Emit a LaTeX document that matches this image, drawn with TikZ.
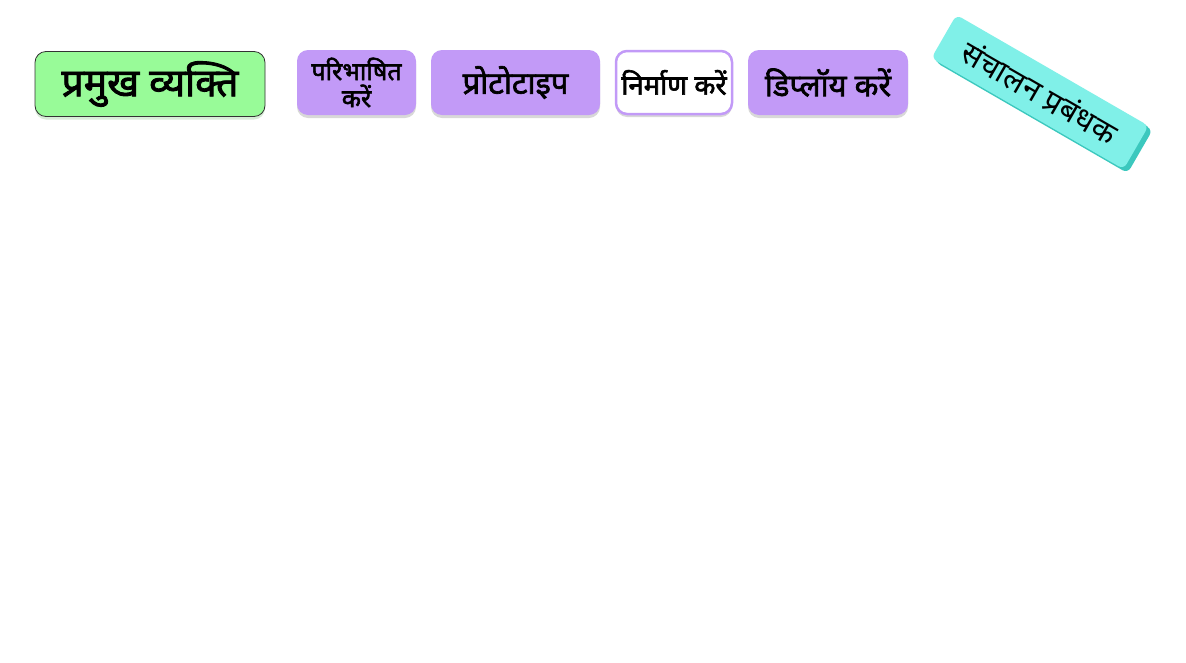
\documentclass[tikz,border=0pt]{standalone}
\usepackage{fontspec}
\newfontfamily\deva[Script=Devanagari]{Noto Sans}
\newfontfamily\devab[Script=Devanagari, FakeBold=2.2]{Noto Sans}
\usetikzlibrary{shadows}
\definecolor{mygreen}{HTML}{98FB98}
\definecolor{mypurple}{HTML}{C29AF7}
\definecolor{myteal}{HTML}{80F0E8}
\definecolor{mytealdark}{HTML}{3CC8BE}
\tikzset{
  base/.style={rounded corners=11pt, inner sep=0pt, align=center},
  keybox/.style={base, fill=mygreen, draw=black!80, line width=0.8pt, drop shadow={shadow xshift=0pt, shadow yshift=-3pt, fill=mygreen!60!gray, opacity=0.35}},
  stagebox/.style={base, fill=mypurple, drop shadow={shadow xshift=0pt, shadow yshift=-3pt, fill=gray, opacity=0.3}},
  activebox/.style={base, fill=white, draw=mypurple, line width=2.5pt, drop shadow={shadow xshift=0pt, shadow yshift=-3pt, fill=gray, opacity=0.3}},
  opsbox/.style={rounded corners=6pt, inner sep=0pt, fill=myteal, double copy shadow={shadow xshift=2pt, shadow yshift=-2pt, fill=mytealdark, draw=none}}
}
\begin{document}
\begin{tikzpicture}[x=1pt,y=-1pt]
\useasboundingbox (0,0) rectangle (1186,662);
\fill[white] (0,0) rectangle (1186,662);
\node[keybox, minimum width=230pt, minimum height=65pt, font=\devab\fontsize{39}{40}\selectfont] (key) at (150,84) {प्रमुख व्यक्ति};
\node[stagebox, minimum width=119pt, minimum height=65pt, font=\devab\fontsize{25}{27}\selectfont] (define) at (356.5,82.5) {परिभाषित\\करें};
\node[stagebox, minimum width=169pt, minimum height=65pt, font=\devab\fontsize{31}{32}\selectfont] (proto) at (515.5,82.5) {प्रोटोटाइप};
\node[activebox, minimum width=116pt, minimum height=63pt, font=\devab\fontsize{27.5}{28}\selectfont] (build) at (674,82.5) {निर्माण करें};
\node[stagebox, minimum width=160pt, minimum height=65pt, font=\devab\fontsize{31}{32}\selectfont] (deploy) at (828,82.5) {डिप्लॉय करें};
\node[opsbox, minimum width=222pt, minimum height=50pt, rotate=-30, font=\deva\fontsize{31}{34}\selectfont] (ops) at (1040,92) {संचालन प्रबंधक};
\end{tikzpicture}
\end{document}
